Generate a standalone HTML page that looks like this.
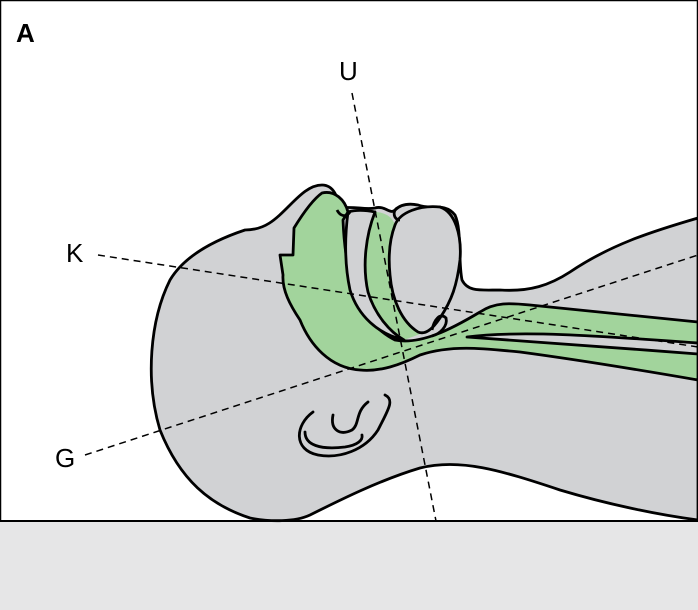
<!DOCTYPE html>
<html><head><style>html,body{margin:0;padding:0;background:#fff}svg{display:block}</style></head><body>
<svg width="698" height="610" viewBox="0 0 698 610" xmlns="http://www.w3.org/2000/svg">
<rect x="0.5" y="0.5" width="697" height="609" fill="#fff" stroke="#000" stroke-width="1.5"/>
<rect x="0" y="521" width="698" height="89" fill="#e6e6e7"/>
<line x1="0" y1="521" x2="698" y2="521" stroke="#000" stroke-width="2"/>
<path d="M698,218 C650,232 610,245 570,272 C550,285 530,292 500,290 C480,290 468,292 462,280 C458,260 462,230 455,215 C445,202 430,210 418,205 C408,203 400,205 395,210 C390,215 385,205 375,208 C365,210 355,206 340,208 C338,200 335,185 322,185 C310,185 300,195 290,205 C275,220 265,230 245,230 C215,240 185,255 170,280 C150,320 145,380 160,430 C180,480 210,505 250,518 C270,522 295,522 310,515 C340,500 380,480 420,468 C460,458 500,470 560,490 C610,505 660,515 698,520 Z" fill="#d1d2d4" stroke="#000" stroke-width="2.8" stroke-linejoin="round"/>
<path d="M322,193 C335,190 345,200 348,212 L343,220 C345,270 355,320 395,340 C420,345 450,330 480,312 C495,302 510,303 530,305 L698,322 L698,380 C640,370 580,360 520,352 C480,348 450,345 420,355 C400,365 380,372 360,370 C330,368 310,345 300,320 C290,305 282,290 283,275 L280,255 L293,255 L294,228 C302,215 312,200 322,193 Z" fill="#a2d49c" stroke="#000" stroke-width="2.8" stroke-linejoin="round"/>
<!-- green band between palate and tongue -->
<path d="M375,212 C366,235 362,265 368,292 C375,315 390,332 404,340 L420,334 C402,322 392,300 390,275 C388,255 390,238 395,225 C392,215 382,212 375,212 Z" fill="#a2d49c"/>
<path d="M467,337 C520,330 600,336 698,343 L698,354 C620,348 540,342 467,337 Z" fill="#d1d2d4" stroke="#000" stroke-width="2.8" stroke-linejoin="round"/>
<path d="M348,212 C355,210 365,210 375,212 C366,235 362,265 368,292 C375,315 390,332 404,340 C378,334 358,316 350,290 C344,262 345,235 348,212 Z" fill="#d1d2d4" stroke="#000" stroke-width="2.8" stroke-linejoin="round"/>
<path d="M395,225 C400,212 420,205 440,207 C455,212 462,235 460,260 C457,285 452,300 440,318 C432,330 425,335 418,332 C402,322 392,300 390,275 C388,255 390,238 395,225 Z" fill="#d1d2d4" stroke="#000" stroke-width="2.8" stroke-linejoin="round"/>
<path d="M432,330 C434,320 440,312 446,318 C448,326 440,334 432,336" fill="none" stroke="#000" stroke-width="2.8"/>
<path d="M337,210 C340,216 346,218 350,212" fill="none" stroke="#000" stroke-width="2.8"/>
<path d="M397,208 C392,212 394,220 400,220" fill="none" stroke="#000" stroke-width="2.8"/>
<g fill="none" stroke="#000" stroke-width="2.8" stroke-linecap="round">
<path d="M313,412 C295,425 293,450 318,455 C340,459 365,450 378,430 C388,410 395,400 385,395"/>
<path d="M305,432 C305,445 320,450 345,447 C358,445 363,440 362,435"/>
<path d="M333,415 C330,430 340,436 352,430 C360,424 355,412 368,402"/>
</g>
<g stroke="#000" stroke-width="1.5" stroke-dasharray="7,5" fill="none">
<line x1="352" y1="93" x2="436" y2="521"/>
<line x1="98" y1="255" x2="698" y2="347"/>
<line x1="85" y1="455" x2="698" y2="255"/>
</g>
<g font-family="Liberation Sans, sans-serif" font-size="26" fill="#000">
<text x="16" y="42" font-weight="bold">A</text>
<text x="339" y="80">U</text>
<text x="66" y="262">K</text>
<text x="55" y="467">G</text>
</g>
</svg>
</body></html>
